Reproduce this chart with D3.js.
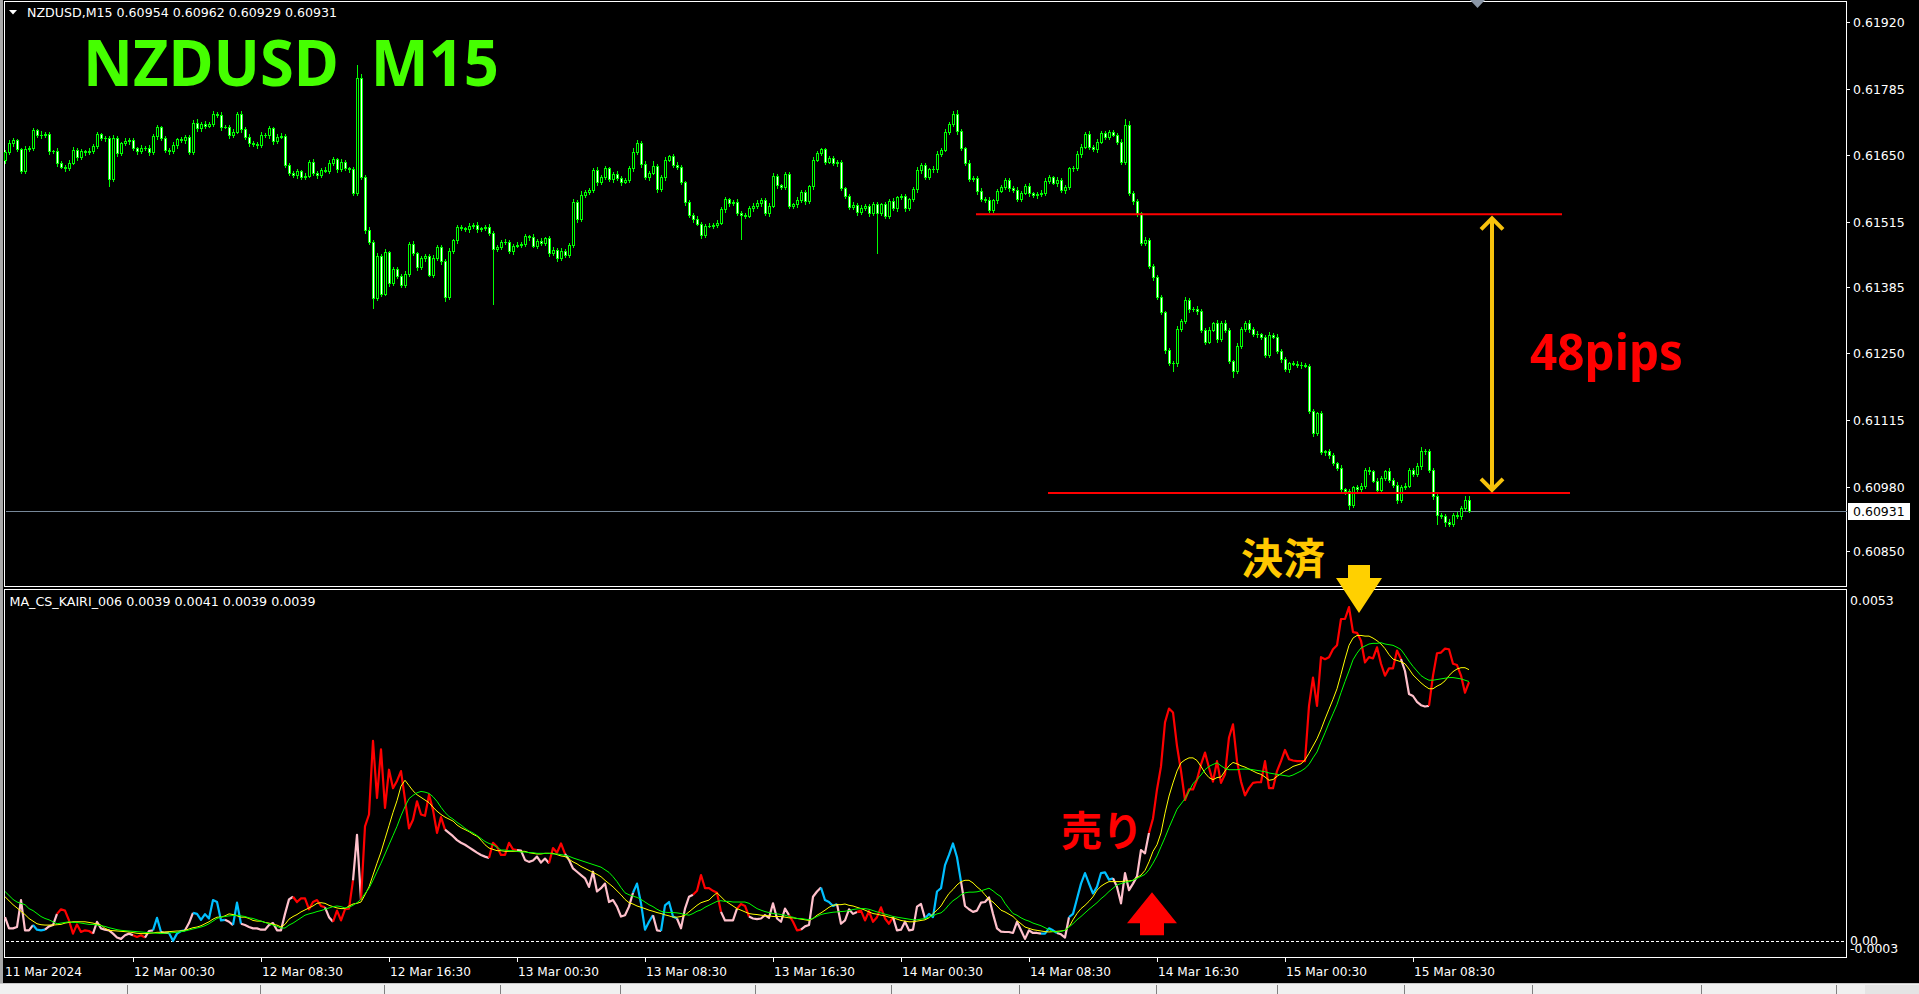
<!DOCTYPE html>
<html><head><meta charset="utf-8">
<script src="https://cdn.jsdelivr.net/npm/d3@7"></script>
<style>html,body{margin:0;padding:0;background:#000;overflow:hidden}</style>
</head><body>
<svg id="c" width="1919" height="994"></svg>
<script>
// ===================== DATA =====================
const symbolLabel = "NZDUSD,M15";
const titleText = "NZDUSD  M15";
const indicatorHeader = "MA_CS_KAIRI_006 0.0039 0.0041 0.0039 0.0039";
// candle closes in points above 0.60000 (0.61656 -> 1656); open = previous close
const firstOpen = 1640;
const closePts = [
1656,1675,1681,1662,1619,1662,1666,1701,1691,1691,
1693,1658,1658,1634,1627,1624,1635,1661,1646,1658,
1656,1658,1670,1693,1685,1685,1602,1685,1654,1675,
1680,1681,1664,1658,1664,1666,1656,1689,1707,1685,
1660,1658,1671,1683,1681,1687,1656,1715,1705,1714,
1710,1714,1734,1732,1708,1708,1691,1698,1734,1703,
1688,1676,1673,1671,1691,1691,1705,1680,1688,1689,
1631,1614,1610,1618,1607,1609,1637,1615,1611,1621,
1619,1634,1642,1622,1637,1624,1622,1574,1807,1607,
1499,1476,1361,1447,1370,1454,1393,1420,1407,1388,
1411,1471,1452,1425,1442,1447,1409,1443,1464,1437,
1363,1456,1479,1505,1503,1501,1508,1510,1501,1503,
1506,1494,1460,1464,1476,1476,1456,1467,1469,1471,
1487,1486,1467,1477,1473,1483,1452,1459,1442,1456,
1449,1468,1556,1521,1570,1576,1580,1621,1597,1606,
1624,1602,1613,1605,1597,1600,1624,1656,1675,1633,
1606,1615,1629,1582,1606,1641,1648,1631,1627,1596,
1555,1529,1521,1512,1489,1508,1508,1510,1514,1541,
1561,1553,1556,1533,1530,1528,1543,1548,1553,1560,
1533,1548,1609,1590,1587,1612,1547,1551,1559,1576,
1557,1588,1641,1654,1662,1637,1644,1635,1637,1584,
1569,1545,1550,1535,1543,1548,1533,1551,1533,1551,
1528,1557,1543,1565,1568,1543,1561,1582,1621,1630,
1606,1622,1623,1653,1661,1698,1714,1734,1700,1664,
1635,1602,1605,1579,1561,1560,1539,1559,1579,1586,
1601,1584,1580,1562,1575,1589,1574,1570,1572,1575,
1599,1606,1595,1601,1580,1586,1624,1624,1653,1668,
1694,1668,1663,1678,1696,1688,1697,1692,1678,1636,
1712,1574,1557,1533,1473,1480,1426,1405,1364,1333,
1256,1230,1230,1299,1316,1358,1339,1339,1335,1298,
1274,1298,1311,1279,1312,1298,1234,1214,1265,1299,
1312,1299,1289,1289,1283,1247,1288,1284,1254,1238,
1218,1230,1229,1227,1227,1225,1133,1089,1129,1050,
1052,1045,1028,1018,975,971,944,980,975,983,
1014,1012,993,973,998,1012,995,985,954,981,
983,1015,1007,1022,1052,1052,1015,961,924,921,
910,906,924,921,937,954,931];
// wick lengths in points above/below the body
const upWick = [
4,6,5,3,4,8,4,5,3,9, 4,5,3,6,4,3,5,7,4,5, 3,6,4,5,3,4,5,6,4,3, 6,4,5,3,7,4,6,5,4,3,
5,4,6,3,4,5,4,6,8,4, 5,3,6,4,5,3,4,5,4,6, 4,5,3,4,6,5,4,3,5,6, 4,3,5,4,3,6,4,5,3,4,
5,6,4,3,5,4,3,4,26,8, 4,6,3,5,4,6,3,5,4,3, 5,4,6,3,5,4,3,6,4,5, 4,6,3,5,4,3,5,4,6,3,
4,5,3,6,4,5,3,4,6,5, 4,3,5,4,6,3,4,5,3,6, 4,5,6,3,8,4,5,3,6,4, 5,3,4,6,3,5,4,8,6,4,
5,3,10,4,5,6,3,4,5,4, 3,5,4,6,3,4,5,3,6,4, 5,3,4,6,5,3,4,5,6,4, 3,5,6,4,3,5,4,3,6,5,
4,3,6,5,4,3,4,5,3,4, 3,4,5,3,6,4,3,5,4,3, 5,4,6,3,4,5,3,4,6,5, 4,3,5,6,4,5,4,6,8,4,
3,5,4,3,5,4,6,3,4,5, 4,3,5,6,3,4,5,3,4,6, 5,4,3,6,4,5,3,4,6,5, 4,6,3,5,4,3,5,4,3,6,
11,8,4,5,3,6,4,5,3,4, 3,4,5,6,4,5,3,4,6,5, 4,5,3,6,4,5,4,3,5,4, 3,5,4,6,3,4,5,3,6,4,
5,3,4,5,6,3,4,5,3,4, 3,5,4,3,6,4,5,3,4,5, 4,6,3,5,4,3,6,4,5,3, 5,4,3,6,8,4,5,3,4,3,
4,5,3,6,5,8,8];
const dnWick = [
5,4,6,3,5,4,3,6,4,5, 3,5,4,6,3,5,4,3,6,4, 5,3,4,6,4,5,13,4,5,3, 4,6,3,5,4,3,6,4,5,3,
4,5,3,6,4,5,3,4,6,5, 4,3,5,4,6,3,5,4,3,5, 4,6,3,5,4,3,5,6,4,3, 5,4,3,6,4,5,3,4,6,4,
3,5,4,6,3,4,5,3,4,5, 6,4,20,4,5,3,6,4,5,3, 4,5,3,6,4,5,3,4,5,6, 8,4,3,5,4,3,6,4,5,3,
4,5,111,4,3,5,4,6,3,5, 4,6,3,5,4,3,5,4,6,3, 5,4,3,6,4,5,3,4,6,5, 4,3,5,4,6,3,4,5,3,6,
4,5,3,6,4,5,3,4,5,3, 5,4,6,3,5,4,3,5,4,3, 5,6,3,4,49,4,3,5,4,6, 4,5,3,6,4,5,3,4,5,3,
6,4,5,3,4,5,3,4,6,4, 5,3,4,6,3,4,5,3,81,4, 5,4,3,6,4,5,3,4,5,6, 4,3,5,6,4,3,5,4,6,3,
5,4,3,6,4,5,3,4,5,3, 4,6,3,5,4,3,5,4,6,3, 5,4,3,6,4,5,3,5,4,6, 3,5,4,6,3,5,4,3,5,4,
3,4,5,6,3,5,4,6,5,4, 6,4,16,5,3,4,6,3,5,4, 5,4,3,6,4,5,3,11,4,5, 3,5,4,6,3,4,5,3,4,6,
4,5,3,4,6,3,4,5,3,4, 5,6,4,3,5,6,8,4,5,3, 4,5,3,6,4,3,5,4,6,5, 4,3,5,4,6,5,4,6,18,4,
8,5,4,3,6,4,2];
const priceTicks = [0.61920,0.61785,0.61650,0.61515,0.61385,0.61250,0.61115,0.60980,0.60850];
const timeTickBars = [0,32,64,96,128,160,192,224,256,288,320,352];
const timeTickLabels = ["11 Mar 2024","12 Mar 00:30","12 Mar 08:30","12 Mar 16:30","13 Mar 00:30","13 Mar 08:30",
  "13 Mar 16:30","14 Mar 00:30","14 Mar 08:30","14 Mar 16:30","15 Mar 00:30","15 Mar 08:30"];
// indicator values in units of 0.0001
const kairiMain = [
3.6,1.9,1.9,2.1,6.2,1.6,1.6,2.4,1.7,1.6, 1.7,2.2,2.4,4.1,4.8,4.6,3.1,1.1,2.5,1.35,
1.6,1.5,1.1,2.9,1.9,1.7,1.6,1.1,0.5,0.3, 0.85,1.1,0.85,0.6,0.85,0.5,1.5,1.6,3.5,1.35,
1.2,1.2,0,1.1,1.5,1.6,2.7,4.25,4.1,3.2, 4.05,3.4,6.2,5.9,3.1,3.2,2.9,2.4,5.8,2.6,
2.4,2.1,1.9,1.9,1.7,1.7,2.4,2.7,1.6,1.6, 4.1,6.3,6.7,5.9,6.45,6.45,4.8,5.9,6.2,5.3,
5.1,3.6,2.9,4.6,3.1,4.8,4.9,9.2,16.1,6.2, 17.4,19.2,30.4,21.7,29.1,20.2,26.0,23.2,24.3,25.8,
21.5,17.1,18.4,21.2,19.2,19.0,22.2,19.9,16.4,18.8, 16.9,16.4,15.9,15.3,14.9,14.6,14.2,13.8,13.4,13.05,
12.8,12.6,14.9,14.3,13.05,13.05,14.9,13.9,13.8,13.7, 12.3,12.0,12.2,12.8,11.9,12.5,11.8,14.1,13.4,14.8,
13.2,12.3,11.0,10.5,10.0,9.5,8.2,10.5,7.5,8.0, 8.7,5.9,6.2,5.2,3.7,3.9,5.2,7.3,8.7,5.7,
1.7,2.9,3.9,1.6,1.5,5.4,5.9,3.7,3.4,1.9, 4.9,6.7,7.0,7.6,10.0,8.0,8.0,7.6,7.3,4.4,
3.1,3.1,3.1,4.9,5.6,5.3,3.7,3.4,3.3,3.4, 3.9,3.5,5.7,3.4,2.9,4.9,3.9,2.9,1.6,1.7,
2.2,2.4,6.7,7.5,8.1,6.2,5.9,5.3,5.6,2.6, 3.1,4.8,4.1,4.4,4.6,3.1,4.5,2.9,3.6,5.1,
3.4,2.6,3.6,1.6,1.7,2.9,1.6,1.7,5.2,5.6, 3.4,4.1,3.6,7.5,8.0,11.5,13.05,14.8,12.7,9.0,
5.3,4.8,4.4,4.6,5.8,5.9,6.6,4.1,1.9,1.4, 1.35,1.35,1.2,2.9,1.6,0.3,1.6,1.2,1.2,1.1,
1.1,1.9,1.6,1.2,1.0,0.5,3.6,4.1,6.4,8.7, 10.3,8.7,7.2,8.2,10.3,10.4,9.3,9.5,8.2,5.7,
10.3,7.7,8.7,9.8,13.8,13.3,16.4,18.6,23.0,26.5, 33.2,35.3,34.7,29.6,25.8,21.4,23.0,23.0,24.5,26.8,
28.6,26.3,24.2,27.3,24.0,25.3,30.9,32.9,27.3,24.2, 22.1,23.2,24.0,24.1,24.1,27.3,23.2,23.2,25.8,27.3,
29.0,27.6,27.4,27.3,27.3,27.3,35.7,40.0,35.7,43.1, 42.8,43.1,44.3,44.9,48.9,48.9,50.7,46.9,46.8,45.6,
42.3,43.1,42.9,44.6,42.1,40.3,41.4,41.4,44.1,42.8, 41.0,37.5,37.2,36.3,35.8,35.6,35.7,40.3,43.7,43.8,
44.4,44.3,42.1,41.9,40.3,37.7,39.3];
// colour state of the main line: r = red, p = pink, b = blue (runs of bars)
const kairiStateRuns = [["p",8],["b",3],["p",3],["r",9],["p",10],["r",3],["p",2],["b",2],["p",2],["b",4],
  ["p",2],["b",8],["p",2],["b",2],["p",13],["r",8],["p",2],["r",5],["p",2],["r",21],["p",11],["r",7],
  ["p",8],["r",4],["p",17],["b",5],["p",2],["b",4],["p",4],["r",7],["p",4],["r",3],["p",10],["r",3],
  ["p",5],["b",4],["p",5],["r",9],["p",8],["b",9],["p",20],["b",4],["p",3],["b",11],["p",9],["r",63],
  ["p",7],["r",10]];
const kairiFast = [
6.7,6.1,5.5,5.0,4.5,4.0,3.4,3.0,2.6,2.45, 2.4,2.4,2.4,2.45,2.5,2.7,2.8,2.9,2.9,2.9,
2.9,2.8,2.7,2.55,2.4,1.9,1.6,1.55,1.5,1.45, 1.4,1.35,1.25,1.15,1.1,1.1,1.15,1.2,1.3,1.3,
1.35,1.4,1.45,1.5,1.5,1.6,1.8,2.0,2.1,2.3, 2.6,2.9,3.3,3.6,3.6,3.8,4.1,4.0,3.8,3.6,
3.6,3.4,3.1,3.0,3.0,2.8,2.7,2.5,2.4,2.1, 2.5,3.3,3.7,4.0,4.4,4.7,5.0,5.3,5.7,5.8,
5.7,5.4,5.2,5.0,4.9,4.9,5.3,5.6,5.7,5.9, 7.0,8.2,10.0,11.8,13.5,15.5,17.5,19.5,21.3,23.5,
24.4,23.6,22.8,22.2,21.8,21.4,21.0,20.3,19.7,19.2, 18.8,18.5,18.2,17.6,17.2,16.9,16.6,16.2,15.9,15.3,
14.6,14.1,13.9,13.7,13.7,13.6,13.6,13.6,13.6,13.6, 13.6,13.4,13.3,13.2,13.2,13.3,13.3,13.3,13.1,12.9,
12.8,12.4,12.0,11.7,11.3,11.0,10.7,10.4,10.1,9.75, 9.2,8.7,8.2,7.6,7.0,6.3,5.8,5.6,5.3,5.1,
4.9,4.66,4.5,4.3,4.15,3.95,3.8,3.6,3.6,3.7, 3.9,4.4,4.9,5.4,5.8,6.0,6.2,6.8,7.3,6.7,
6.1,5.7,5.3,4.9,4.66,4.4,4.15,4.05,4.0,3.9, 3.85,3.8,3.7,3.7,3.7,3.6,3.5,3.5,3.4,3.3,
3.2,3.1,3.4,3.9,4.25,4.66,5.1,5.4,5.5,5.5, 5.6,5.4,5.3,5.1,4.9,4.66,4.4,4.15,4.05,3.9,
3.8,3.6,3.5,3.3,3.1,3.0,2.9,2.9,3.0,3.1, 3.2,3.5,4.15,4.66,5.3,6.3,7.2,7.8,8.5,9.0,
9.2,9.2,8.8,8.2,7.7,7.0,6.3,5.9,5.3,4.66, 4.4,4.05,3.7,3.1,2.6,2.1,1.9,1.7,1.6,1.5,
1.4,1.35,1.4,1.45,1.5,1.6,2.1,3.2,4.15,4.9, 5.4,6.0,6.7,7.7,8.3,8.7,9.0,9.0,9.0,9.0,
9.1,9.1,9.2,9.6,10.0,10.7,12.0,13.6,14.6,16.4, 19.4,22.0,24.0,25.8,27.05,27.5,27.8,27.8,27.4,26.5,
25.5,24.8,24.5,24.8,24.9,25.8,26.6,27.1,26.9,26.6, 26.4,26.1,25.8,25.5,25.3,24.9,24.4,24.5,25.0,25.4,
25.8,26.1,26.5,26.7,26.9,27.5,28.5,29.6,30.7,32.1, 33.7,35.2,36.7,38.3,40.5,42.8,44.9,46.0,46.4,46.4,
46.3,46.3,46.0,45.6,45.1,44.4,43.5,42.8,42.6,42.4, 42.1,41.3,40.4,39.8,39.2,38.7,38.3,38.3,38.7,39.0,
39.5,40.3,40.9,41.3,41.5,41.5,41.2];
const kairiSlow = [
7.5,6.9,6.3,5.9,5.7,5.5,4.9,4.6,4.15,3.7, 3.4,3.2,2.9,2.6,2.7,2.8,2.9,2.8,2.8,2.7,
2.6,2.5,2.5,2.4,2.3,2.2,2.0,1.86,1.7,1.6, 1.55,1.5,1.45,1.4,1.35,1.3,1.25,1.2,1.15,1.1,
1.15,1.2,1.25,1.3,1.4,1.5,1.65,1.8,1.95,2.1, 2.3,2.6,3.0,3.4,3.6,3.7,3.8,3.85,3.9,3.8,
3.7,3.5,3.4,3.2,3.0,2.8,2.6,2.4,2.2,1.95, 1.95,2.4,2.7,3.1,3.5,3.9,4.1,4.25,4.45,4.6,
4.8,5.0,5.2,5.3,5.2,5.0,5.1,5.4,5.8,6.3, 7.2,8.0,9.2,10.5,11.8,13.2,14.6,16.0,17.4,19.0,
20.4,21.6,22.1,22.5,22.7,22.6,22.4,21.9,21.2,20.3, 19.5,18.9,18.5,18.0,17.6,17.1,16.7,16.4,16.0,15.55,
15.1,14.8,14.6,14.2,13.8,13.8,13.7,13.7,13.6,13.5, 13.5,13.4,13.4,13.3,13.3,13.3,13.3,13.2,13.2,13.1,
13.0,12.85,12.6,12.4,12.2,12.0,11.8,11.6,11.4,11.2, 10.8,10.4,9.75,9.0,8.1,7.3,7.0,6.8,6.6,6.3,
5.9,5.5,5.2,4.8,4.5,4.35,4.3,4.3,4.25,4.15, 4.0,3.9,4.15,4.5,4.7,5.1,5.4,5.7,6.0,6.1,
6.0,6.0,5.9,5.9,5.9,5.9,5.7,5.3,4.9,4.66, 4.45,4.3,4.15,4.1,4.0,3.9,3.7,3.6,3.4,3.4,
3.3,3.2,3.4,3.7,4.0,4.15,4.25,4.35,4.4,4.45, 4.5,4.6,4.76,4.85,4.9,4.9,4.8,4.6,4.4,4.25,
4.05,3.9,3.7,3.6,3.5,3.4,3.3,3.2,3.2,3.3, 3.4,3.6,3.8,4.1,4.25,4.76,5.5,6.1,6.5,7.0,
7.3,7.4,7.4,7.45,7.6,7.8,8.0,7.6,7.1,6.7, 5.7,4.9,4.15,3.9,3.5,3.2,3.0,2.7,2.5,2.3,
2.0,1.7,1.4,1.35,1.45,1.6,2.1,2.6,3.2,3.7, 4.25,4.8,5.3,5.8,6.4,6.9,7.5,8.0,8.5,8.7,
8.9,9.0,9.2,9.5,9.8,10.1,10.8,11.8,12.9,14.3, 15.7,17.2,18.6,20.0,20.8,21.6,22.7,23.9,24.5,25.2,
26.0,26.5,26.8,27.05,26.6,26.2,26.0,26.0,26.0,26.1, 26.1,26.1,26.0,25.9,25.8,25.7,25.5,25.4,25.3,25.2,
25.1,25.0,25.2,25.5,25.8,26.2,26.8,27.8,28.7,30.2, 31.6,33.1,34.5,35.9,37.7,39.4,41.0,42.7,43.7,44.5,
44.8,45.1,45.2,45.2,45.3,45.1,45.0,44.9,44.6,44.25, 43.4,42.5,41.7,41.0,40.3,39.9,39.6,39.6,39.7,39.8,
39.9,40.0,40.0,39.9,39.8,39.6,39.4];
const kairiAxisLabels = [{v:53, t:"0.0053"}, {v:0, t:"0.00"}, {v:-3, t:"-0.0003"}];
// annotation levels (price) and their bar spans
const entryLevel = 0.61531, exitLevel = 0.60968;
const entrySpan = [242.75, 389.25], exitSpan = [260.75, 391.25];
const moveArrowBar = 371.75;
const pipsLabel = "48pips", pipsAt = {bar: 381.25, price: 0.61216};
const exitLabel = "決済", exitLabelAt = {bar: 309, price: 0.60804};
const exitArrowAt = {bar: 338.5, v: 49.8};
const sellLabel = "売り", sellLabelAt = {bar: 264, v: 14.4};
const sellArrowAt = {bar: 286.75, v: 7.4};

// ===================== CHECKS =====================
const N = closePts.length;
const stateArr = [];
kairiStateRuns.forEach(([s, n]) => { for (let k = 0; k < n; k++) stateArr.push(s); });
[["upWick",upWick],["dnWick",dnWick],["kairiMain",kairiMain],["kairiFast",kairiFast],["kairiSlow",kairiSlow],["state",stateArr]]
  .forEach(([n,a]) => { if (a.length !== N) throw new Error(n + " length " + a.length + " != " + N); });

// ===================== DRAW =====================
const W = 1919, H = 994;
const svg = d3.select("#c");
svg.append("rect").attr("width", W).attr("height", H).attr("fill", "#000");

const paneL = 4.5, paneR = 1846.5;
const mainTop = 1.5, mainBot = 586.5, indTop = 589.5, indBot = 957.5;

const x = d3.scaleLinear().domain([0, N - 1]).range([5, 5 + 4 * (N - 1)]);
const y = d3.scaleLinear().domain([0.60780, 0.61960]).range([586, 2]);
const yk = d3.scaleLinear().domain([-2.3, 53]).range([956, 592]);
const toPrice = p => 0.6 + p / 100000;

const bars = closePts.map((c, i) => {
  const o = i === 0 ? firstOpen : closePts[i - 1];
  return {i, o: toPrice(o), c: toPrice(c),
    h: toPrice(Math.max(o, c) + upWick[i]), l: toPrice(Math.min(o, c) - dnWick[i])};
});

// left window edge
svg.append("rect").attr("x", 0).attr("y", 0).attr("width", 3).attr("height", 983).attr("fill", "#a8a8a8");

// panes
const panes = svg.append("g").attr("fill", "none").attr("stroke", "#fff").attr("stroke-width", 1).attr("shape-rendering", "crispEdges");
panes.append("rect").attr("x", paneL).attr("y", mainTop).attr("width", paneR - paneL).attr("height", mainBot - mainTop);
panes.append("rect").attr("x", paneL).attr("y", indTop).attr("width", paneR - paneL).attr("height", indBot - indTop);

// chart shift marker
svg.append("path").attr("d", "M1470,0 L1485,0 L1477.5,8 Z").attr("fill", "#8a96a6");

// bid line
const lastBar = bars[N - 1];
svg.append("line").attr("x1", paneL + 1).attr("x2", paneR).attr("y1", Math.round(y(lastBar.c)) + 0.5).attr("y2", Math.round(y(lastBar.c)) + 0.5)
  .attr("stroke", "#778899").attr("shape-rendering", "crispEdges");

// candles
const cg = svg.append("g").attr("shape-rendering", "crispEdges");
bars.forEach(b => {
  const cx = Math.round(x(b.i));
  const yh = Math.round(y(b.h)), yl = Math.round(y(b.l));
  cg.append("line").attr("x1", cx + 0.5).attr("x2", cx + 0.5).attr("y1", yh).attr("y2", yl + 1).attr("stroke", "#00ff00");
  const yt = Math.round(y(Math.max(b.o, b.c))), yb = Math.round(y(Math.min(b.o, b.c)));
  if (yb - yt < 1) {
    cg.append("line").attr("x1", cx - 1).attr("x2", cx + 2).attr("y1", yt + 0.5).attr("y2", yt + 0.5).attr("stroke", "#00ff00");
  } else {
    cg.append("rect").attr("x", cx - 0.5).attr("y", yt + 0.5).attr("width", 2).attr("height", yb - yt)
      .attr("fill", b.c < b.o ? "#ffffff" : "#000000").attr("stroke", "#00ff00");
  }
});

// price axis
const pa = svg.append("g").attr("font-family", "DejaVu Sans, Verdana, sans-serif").attr("font-size", "12.5px").attr("fill", "#fff");
priceTicks.forEach(v => {
  const yy = Math.round(y(v)) + 0.5;
  pa.append("line").attr("x1", paneR).attr("x2", paneR + 3).attr("y1", yy).attr("y2", yy).attr("stroke", "#fff").attr("shape-rendering", "crispEdges");
  pa.append("text").attr("x", 1853).attr("y", yy + 4.5).text(v.toFixed(5));
});
// current price label
const by = Math.round(y(lastBar.c));
svg.append("rect").attr("x", 1848).attr("y", by - 8).attr("width", 62).attr("height", 17).attr("fill", "#fff");
svg.append("text").attr("x", 1853).attr("y", by + 5).attr("font-family", "DejaVu Sans, sans-serif").attr("font-size", "12.5px")
  .attr("fill", "#000").text(lastBar.c.toFixed(5));

// header text
svg.append("path").attr("d", "M9,10 L17,10 L13,14.5 Z").attr("fill", "#fff");
const fmt5 = v => v.toFixed(5);
svg.append("text").attr("x", 27).attr("y", 16.5).attr("font-family", "DejaVu Sans, sans-serif").attr("font-size", "12px").attr("fill", "#fff")
  .attr("textLength", 310).attr("lengthAdjust", "spacingAndGlyphs")
  .text(`${symbolLabel}  ${fmt5(lastBar.o)} ${fmt5(lastBar.h)} ${fmt5(lastBar.l)} ${fmt5(lastBar.c)}`);
svg.append("text").attr("x", 9.5).attr("y", 606).attr("font-family", "DejaVu Sans, sans-serif").attr("font-size", "12px").attr("fill", "#fff")
  .attr("textLength", 306).attr("lengthAdjust", "spacingAndGlyphs").text(indicatorHeader);

// title
svg.append("text").attr("x", 83).attr("y", 86).attr("font-family", "Noto Sans, Open Sans, sans-serif").attr("font-weight", 700)
  .attr("font-size", "64px").attr("fill", "#45ff00").attr("textLength", 416).attr("lengthAdjust", "spacingAndGlyphs")
  .attr("xml:space", "preserve").style("white-space", "pre").text(titleText);

// indicator: zero level
const y0 = Math.round(yk(0)) + 0.5;
svg.append("line").attr("x1", paneL + 1).attr("x2", paneR).attr("y1", y0).attr("y2", y0).attr("stroke", "#fff")
  .attr("stroke-dasharray", "3,2").attr("shape-rendering", "crispEdges");

// indicator lines
const ig = svg.append("g").attr("fill", "none");
const colorOf = {r: "#ff0000", p: "#ffc0cb", b: "#00bfff"};
const lineGen = d3.line().x(d => x(d.i)).y(d => yk(d.v));
let start = 0;
for (let i = 1; i <= N; i++) {
  if (i === N || stateArr[i] !== stateArr[start]) {
    const from = Math.max(0, start - 1);
    const pts = [];
    for (let k = from; k < i; k++) pts.push({i: k, v: kairiMain[k]});
    ig.append("path").attr("d", lineGen(pts)).attr("stroke", colorOf[stateArr[start]]).attr("stroke-width", 2.2).attr("stroke-linejoin", "round");
    start = i;
  }
}
ig.append("path").attr("d", lineGen(kairiFast.map((v, i) => ({i, v})))).attr("stroke", "#ffff00").attr("stroke-width", 1);
ig.append("path").attr("d", lineGen(kairiSlow.map((v, i) => ({i, v})))).attr("stroke", "#00ff00").attr("stroke-width", 1);

// indicator axis labels
const ka = svg.append("g").attr("font-family", "DejaVu Sans, sans-serif").attr("font-size", "12.5px").attr("fill", "#fff");
kairiAxisLabels.forEach(d => {
  let yy = yk(d.v);
  yy = Math.max(indTop + 11, Math.min(indBot - 9, yy));
  ka.append("text").attr("x", 1850).attr("y", yy + 4.5).text(d.t);
});

// time axis
const ta = svg.append("g").attr("font-family", "DejaVu Sans, sans-serif").attr("font-size", "13px").attr("fill", "#fff");
const tnodes = [];
timeTickBars.forEach((bi, k) => {
  const tx = Math.round(x(bi)) + 0.5;
  if (k > 0) ta.append("line").attr("x1", tx).attr("x2", tx).attr("y1", indBot).attr("y2", indBot + 4).attr("stroke", "#fff").attr("shape-rendering", "crispEdges");
  tnodes.push(ta.append("text").attr("x", k === 0 ? 5 : tx + 0.5).attr("y", 976).text(timeTickLabels[k]).node());
});
const refLen = tnodes[1].getComputedTextLength();
const kx = 81 / refLen;
tnodes.forEach(n => { n.setAttribute("textLength", n.getComputedTextLength() * kx); n.setAttribute("lengthAdjust", "spacingAndGlyphs"); });

// bottom tab strip
svg.append("rect").attr("x", 0).attr("y", 983).attr("width", W).attr("height", 11).attr("fill", "#f0f0f0");
svg.append("line").attr("x1", 0).attr("x2", W).attr("y1", 983.5).attr("y2", 983.5).attr("stroke", "#c8c8c8").attr("shape-rendering", "crispEdges");
const tabEdges = [127, 260, 384, 500, 620, 755, 891, 1019, 1156, 1277, 1404, 1532, 1701, 1836];
tabEdges.forEach(tx => svg.append("line").attr("x1", tx + 0.5).attr("x2", tx + 0.5).attr("y1", 985).attr("y2", 994)
  .attr("stroke", "#808080").attr("shape-rendering", "crispEdges"));
svg.append("rect").attr("x", 1865).attr("y", 985).attr("width", 54).attr("height", 9).attr("fill", "#e4e4e4");

// ===== annotations =====
const an = svg.append("g");
// level lines
an.append("line").attr("x1", x(entrySpan[0])).attr("x2", x(entrySpan[1])).attr("y1", y(entryLevel)).attr("y2", y(entryLevel))
  .attr("stroke", "#ff0000").attr("stroke-width", 2);
an.append("line").attr("x1", x(exitSpan[0])).attr("x2", x(exitSpan[1])).attr("y1", y(exitLevel)).attr("y2", y(exitLevel))
  .attr("stroke", "#ff0000").attr("stroke-width", 2);
// double arrow
const ax = x(moveArrowBar), ayT = y(entryLevel) + 4, ayB = y(exitLevel) - 3;
const gold = "#f7c20c";
an.append("line").attr("x1", ax).attr("x2", ax).attr("y1", ayT + 1).attr("y2", ayB - 1).attr("stroke", gold).attr("stroke-width", 4);
an.append("path").attr("d", `M${ax - 11},${ayT + 11} L${ax},${ayT} L${ax + 11},${ayT + 11}`).attr("fill", "none").attr("stroke", gold)
  .attr("stroke-width", 4).attr("stroke-linejoin", "miter");
an.append("path").attr("d", `M${ax - 11},${ayB - 11} L${ax},${ayB} L${ax + 11},${ayB - 11}`).attr("fill", "none").attr("stroke", gold)
  .attr("stroke-width", 4).attr("stroke-linejoin", "miter");
// pips label
an.append("text").attr("x", x(pipsAt.bar)).attr("y", y(pipsAt.price)).attr("font-family", "Noto Sans, Open Sans, sans-serif")
  .attr("font-weight", 700).attr("font-size", "50px").attr("fill", "#ff0000").attr("textLength", 153).attr("lengthAdjust", "spacingAndGlyphs").text(pipsLabel);
// exit label + arrow
an.append("text").attr("x", x(exitLabelAt.bar)).attr("y", y(exitLabelAt.price)).attr("font-family", "Noto Sans CJK JP, sans-serif")
  .attr("font-weight", 700).attr("font-size", "42px").attr("fill", "#ffc800").text(exitLabel);
{
  const tx = x(exitArrowAt.bar), ty = yk(exitArrowAt.v);
  an.append("path").attr("d", `M${tx},${ty} L${tx - 23},${ty - 35} L${tx - 11},${ty - 35} L${tx - 11},${ty - 48} L${tx + 11},${ty - 48} L${tx + 11},${ty - 35} L${tx + 23},${ty - 35} Z`)
    .attr("fill", "#ffd000");
}
// sell label + arrow
an.append("text").attr("x", x(sellLabelAt.bar)).attr("y", yk(sellLabelAt.v)).attr("font-family", "Noto Sans CJK JP, sans-serif")
  .attr("font-weight", 700).attr("font-size", "41px").attr("fill", "#ff0000").text(sellLabel);
{
  const tx = x(sellArrowAt.bar), ty = yk(sellArrowAt.v);
  an.append("path").attr("d", `M${tx},${ty} L${tx - 25},${ty + 31} L${tx - 12},${ty + 31} L${tx - 12},${ty + 43} L${tx + 12},${ty + 43} L${tx + 12},${ty + 31} L${tx + 25},${ty + 31} Z`)
    .attr("fill", "#ff0000");
}
</script>
</body></html>
